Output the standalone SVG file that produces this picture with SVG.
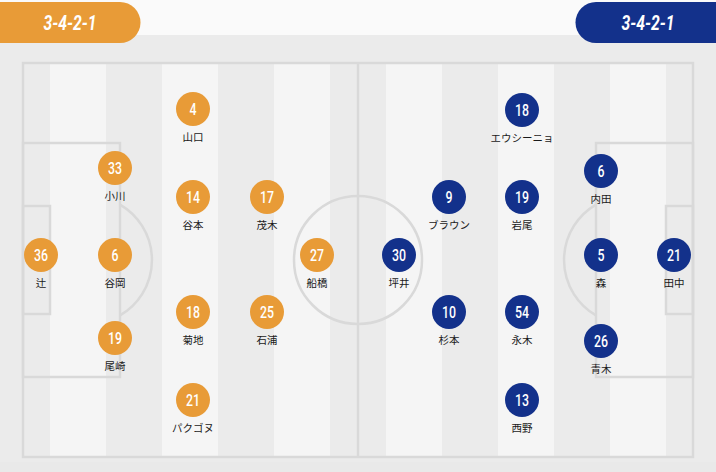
<svg xmlns="http://www.w3.org/2000/svg" width="716" height="472" viewBox="0 0 716 472">
<style>
.ln{fill:none;stroke:#d9d9d9;stroke-width:2.5}
.lt{fill:#f5f5f5}
.o circle{fill:#e89b37}
.n circle{fill:#13318b}
.num{font-family:Roboto,"Liberation Sans",sans-serif;font-weight:500;font-size:16px;fill:#fff;text-anchor:middle}
.nm{font-family:"Noto Sans CJK JP","Noto Sans",sans-serif;font-size:10.5px;fill:#1a1a1a;text-anchor:middle}
.hd{font-family:Roboto,"Liberation Sans",sans-serif;font-weight:700;font-style:italic;font-size:21px;fill:#fff;text-anchor:middle}
</style>
<rect x="0" y="0" width="716" height="472" fill="#ebebeb"/>
<rect x="0" y="0" width="716" height="35" fill="#fafafa"/>
<rect x="0" y="462" width="716" height="10" fill="#e9e9e9"/>
<g id="pitch">
<rect class="lt" x="50" y="63" width="56" height="394"/>
<rect class="lt" x="162" y="63" width="56" height="394"/>
<rect class="lt" x="274" y="63" width="56" height="394"/>
<rect class="lt" x="386" y="63" width="56" height="394"/>
<rect class="lt" x="498" y="63" width="56" height="394"/>
<rect class="lt" x="610" y="63" width="56" height="394"/>
<rect class="ln" x="23" y="63" width="670" height="394" stroke-width="3"/>
<line class="ln" x1="358" y1="63" x2="358" y2="457"/>
<circle class="ln" cx="358" cy="260" r="64"/>
<rect class="ln" x="23" y="143" width="97" height="234"/>
<rect class="ln" x="23" y="206" width="27" height="108"/>
<path class="ln" d="M120,204.6 A64,64 0 0 1 120,315.4"/>
<rect class="ln" x="596" y="143" width="97" height="234"/>
<rect class="ln" x="666" y="206" width="27" height="108"/>
<path class="ln" d="M596,204.6 A64,64 0 0 0 596,315.4"/>
</g>
<g id="home-badge">
<path d="M0,2 H120 A20.5,20.5 0 0 1 120,43 H0 Z" fill="#e89b37"/>
<text class="hd" x="70" y="30" textLength="53" lengthAdjust="spacingAndGlyphs">3-4-2-1</text>
</g>
<g id="away-badge">
<path d="M716,2 H596 A20.5,20.5 0 0 0 596,43 H716 Z" fill="#13318b"/>
<text class="hd" x="648" y="30" textLength="53" lengthAdjust="spacingAndGlyphs">3-4-2-1</text>
</g>
<g id="connectors"></g>
<g id="h4" class="o"><circle cx="193" cy="109" r="17"/><text class="num" x="193" y="115" textLength="7" lengthAdjust="spacingAndGlyphs">4</text><text class="nm" x="193" y="141">山口</text></g>
<g id="h33" class="o"><circle cx="115" cy="168" r="17"/><text class="num" x="115" y="174" textLength="14" lengthAdjust="spacingAndGlyphs">33</text><text class="nm" x="115" y="200">小川</text></g>
<g id="h14" class="o"><circle cx="193" cy="197" r="17"/><text class="num" x="193" y="203" textLength="14" lengthAdjust="spacingAndGlyphs">14</text><text class="nm" x="193" y="229">谷本</text></g>
<g id="h17" class="o"><circle cx="267" cy="197" r="17"/><text class="num" x="267" y="203" textLength="14" lengthAdjust="spacingAndGlyphs">17</text><text class="nm" x="267" y="229">茂木</text></g>
<g id="h36" class="o"><circle cx="41" cy="255" r="17"/><text class="num" x="41" y="261" textLength="14" lengthAdjust="spacingAndGlyphs">36</text><text class="nm" x="41" y="287">辻</text></g>
<g id="h6" class="o"><circle cx="115" cy="255" r="17"/><text class="num" x="115" y="261" textLength="7" lengthAdjust="spacingAndGlyphs">6</text><text class="nm" x="115" y="287">谷岡</text></g>
<g id="h27" class="o"><circle cx="317" cy="255" r="17"/><text class="num" x="317" y="261" textLength="14" lengthAdjust="spacingAndGlyphs">27</text><text class="nm" x="317" y="287">船橋</text></g>
<g id="h18" class="o"><circle cx="193" cy="312" r="17"/><text class="num" x="193" y="318" textLength="14" lengthAdjust="spacingAndGlyphs">18</text><text class="nm" x="193" y="344">菊地</text></g>
<g id="h25" class="o"><circle cx="267" cy="312" r="17"/><text class="num" x="267" y="318" textLength="14" lengthAdjust="spacingAndGlyphs">25</text><text class="nm" x="267" y="344">石浦</text></g>
<g id="h19" class="o"><circle cx="115" cy="338" r="17"/><text class="num" x="115" y="344" textLength="14" lengthAdjust="spacingAndGlyphs">19</text><text class="nm" x="115" y="370">尾崎</text></g>
<g id="h21" class="o"><circle cx="193" cy="400" r="17"/><text class="num" x="193" y="406" textLength="14" lengthAdjust="spacingAndGlyphs">21</text><text class="nm" x="193" y="432">パクゴヌ</text></g>
<g id="a18" class="n"><circle cx="522" cy="110" r="17"/><text class="num" x="522" y="116" textLength="14" lengthAdjust="spacingAndGlyphs">18</text><text class="nm" x="522" y="142">エウシーニョ</text></g>
<g id="a6" class="n"><circle cx="601" cy="171" r="17"/><text class="num" x="601" y="177" textLength="7" lengthAdjust="spacingAndGlyphs">6</text><text class="nm" x="601" y="203">内田</text></g>
<g id="a9" class="n"><circle cx="449" cy="197" r="17"/><text class="num" x="449" y="203" textLength="7" lengthAdjust="spacingAndGlyphs">9</text><text class="nm" x="449" y="229">ブラウン</text></g>
<g id="a19" class="n"><circle cx="522" cy="197" r="17"/><text class="num" x="522" y="203" textLength="14" lengthAdjust="spacingAndGlyphs">19</text><text class="nm" x="522" y="229">岩尾</text></g>
<g id="a30" class="n"><circle cx="399" cy="255" r="17"/><text class="num" x="399" y="261" textLength="14" lengthAdjust="spacingAndGlyphs">30</text><text class="nm" x="399" y="287">坪井</text></g>
<g id="a5" class="n"><circle cx="601" cy="255" r="17"/><text class="num" x="601" y="261" textLength="7" lengthAdjust="spacingAndGlyphs">5</text><text class="nm" x="601" y="287">森</text></g>
<g id="a21" class="n"><circle cx="674" cy="255" r="17"/><text class="num" x="674" y="261" textLength="14" lengthAdjust="spacingAndGlyphs">21</text><text class="nm" x="674" y="287">田中</text></g>
<g id="a10" class="n"><circle cx="449" cy="312" r="17"/><text class="num" x="449" y="318" textLength="14" lengthAdjust="spacingAndGlyphs">10</text><text class="nm" x="449" y="344">杉本</text></g>
<g id="a54" class="n"><circle cx="522" cy="312" r="17"/><text class="num" x="522" y="318" textLength="14" lengthAdjust="spacingAndGlyphs">54</text><text class="nm" x="522" y="344">永木</text></g>
<g id="a26" class="n"><circle cx="601" cy="341" r="17"/><text class="num" x="601" y="347" textLength="14" lengthAdjust="spacingAndGlyphs">26</text><text class="nm" x="601" y="373">青木</text></g>
<g id="a13" class="n"><circle cx="522" cy="400" r="17"/><text class="num" x="522" y="406" textLength="14" lengthAdjust="spacingAndGlyphs">13</text><text class="nm" x="522" y="432">西野</text></g>
</svg>
